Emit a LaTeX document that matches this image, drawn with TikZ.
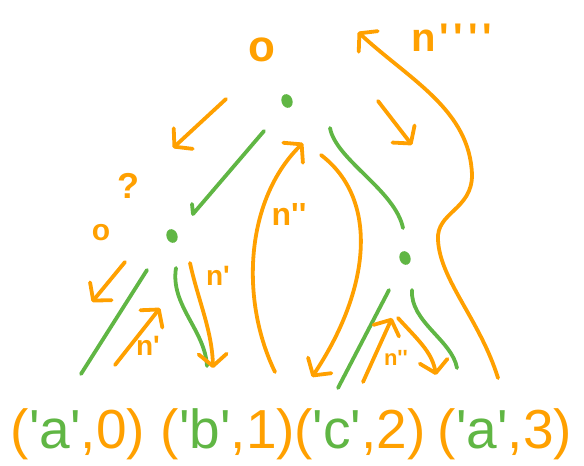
\documentclass[tikz,border=0pt]{standalone}
\usepackage{fontspec}
\setmainfont{Liberation Sans}
\usetikzlibrary{arrows.meta,shapes.geometric}
\definecolor{og}{RGB}{255,160,0}
\definecolor{gr}{RGB}{96,182,68}
\newcommand{\myq}{\textquotesingle}
\begin{document}
\begin{tikzpicture}[x=1pt,y=-1pt,
  pen/.style={line width=3.8pt,line cap=round,line join=round},
  gline/.style={pen,draw=gr},
  oline/.style={pen,draw=og},
  oarrow/.style={oline,-{Straight Barb[length=12pt,width=28pt,line cap=round,line join=round]}},
  dot/.style={ellipse,fill=gr,draw=none,minimum width=11pt,minimum height=14pt,inner sep=0pt,rotate=20},
  lab/.style={text=og,inner sep=0pt},
  tup/.style={font=\fontsize{55}{55}\selectfont,inner sep=0pt,anchor=base},
]
\useasboundingbox (0,0) rectangle (584,466);

% tree nodes
\node[dot] (root) at (287,101) {};
\node[dot] (lc) at (172,236) {};
\node[dot] (rc) at (405,258) {};

% leaves
\node[tup] (t1) at (78,448) {\textcolor{og}{(}\textcolor{gr}{\myq a\myq}\textcolor{og}{,0)}};
\node[tup] (t2) at (228,448) {\textcolor{og}{(}\textcolor{gr}{\myq b\myq}\textcolor{og}{,1)}};
\node[tup] (t3) at (360,448) {\textcolor{og}{(}\textcolor{gr}{\myq c\myq}\textcolor{og}{,2)}};
\node[tup] (t4) at (505,448) {\textcolor{og}{(}\textcolor{gr}{\myq a\myq}\textcolor{og}{,3)}};

% labels
\node[lab,font=\bfseries\fontsize{44}{44}\selectfont] (o1) at (262,50) {o};
\node[lab,font=\bfseries\fontsize{36}{36}\selectfont] (qm) at (128,186) {?};
\node[lab,font=\bfseries\fontsize{30}{30}\selectfont] (o2) at (101,233) {o};
\node[lab,font=\bfseries\fontsize{28}{28}\selectfont] (n1) at (218,276) {n\myq};
\node[lab,font=\bfseries\fontsize{28}{28}\selectfont] (n2) at (148,346) {n\myq};
\node[lab,font=\bfseries\fontsize{32}{32}\selectfont] (n3) at (289,214) {n\myq\myq};
\node[lab,font=\bfseries\fontsize{22}{22}\selectfont] (n4) at (396,358) {n\myq\myq};
\node[lab,font=\bfseries\fontsize{40}{40}\selectfont] (n5) at (452,38) {n\kern3pt\myq\kern5pt\myq\kern5pt\myq\kern5pt\myq};

% endpoints of the hand-drawn strokes
\coordinate (g1a) at (264,131); \coordinate (g1b) at (193,214); \coordinate (g1c) at (192,204);
\coordinate (g2a) at (330,128); \coordinate (g2b) at (403,228);
\coordinate (g3a) at (147,270); \coordinate (g3b) at (81,374);
\coordinate (g4a) at (176,268); \coordinate (g4b) at (207,366);
\coordinate (g5a) at (389,290); \coordinate (g5b) at (338,388);
\coordinate (g6a) at (412,290); \coordinate (g6b) at (457,368);

\coordinate (aA) at (226,99);  \coordinate (bA) at (173,148);
\coordinate (aB) at (378,101); \coordinate (bB) at (412,145);
\coordinate (aC) at (125,262); \coordinate (bC) at (92,302);
\coordinate (aD) at (115,365); \coordinate (bD) at (160,308);
\coordinate (aE) at (190,263); \coordinate (bE) at (213,368);
\coordinate (aF) at (275,372); \coordinate (bF) at (303,143);
\coordinate (aG) at (321,155); \coordinate (bG) at (312,377);
\coordinate (aH) at (363,382); \coordinate (bH) at (392,318);
\coordinate (aI) at (398,318); \coordinate (bI) at (436,375);
\coordinate (aJ) at (498,378); \coordinate (bJ) at (358,32);

% green tree edges
\draw[gline] (g1a) -- (g1b) -- (g1c);
\draw[gline] (g2a) .. controls (336,160) and (395,190) .. (g2b);
\draw[gline] (g3a) -- (g3b);
\draw[gline] (g4a) .. controls (170,305) and (205,330) .. (g4b);
\draw[gline] (g5a) -- (g5b);
\draw[gline] (g6a) .. controls (410,322) and (452,340) .. (g6b);

% orange traversal arrows
\draw[oarrow] (aA) -- (bA);
\draw[oarrow] (aB) -- (bB);
\draw[oarrow] (aC) -- (bC);
\draw[oarrow] (aD) -- (bD);
\draw[oarrow] (aE) .. controls (198,300) and (212,330) .. (bE);
\draw[oarrow] (aF) .. controls (240,300) and (245,200) .. (bF);
\draw[oarrow] (aG) .. controls (380,200) and (370,290) .. (bG);
\draw[oarrow] (aH) -- (bH);
\draw[oarrow] (aI) .. controls (418,340) and (432,352) .. (bI);
\draw[oarrow] (aJ) .. controls (480,320) and (440,280) .. (438,240)
  .. controls (436,212) and (472,210) .. (472,175)
  .. controls (470,110) and (410,80) .. (bJ);
\end{tikzpicture}
\end{document}
